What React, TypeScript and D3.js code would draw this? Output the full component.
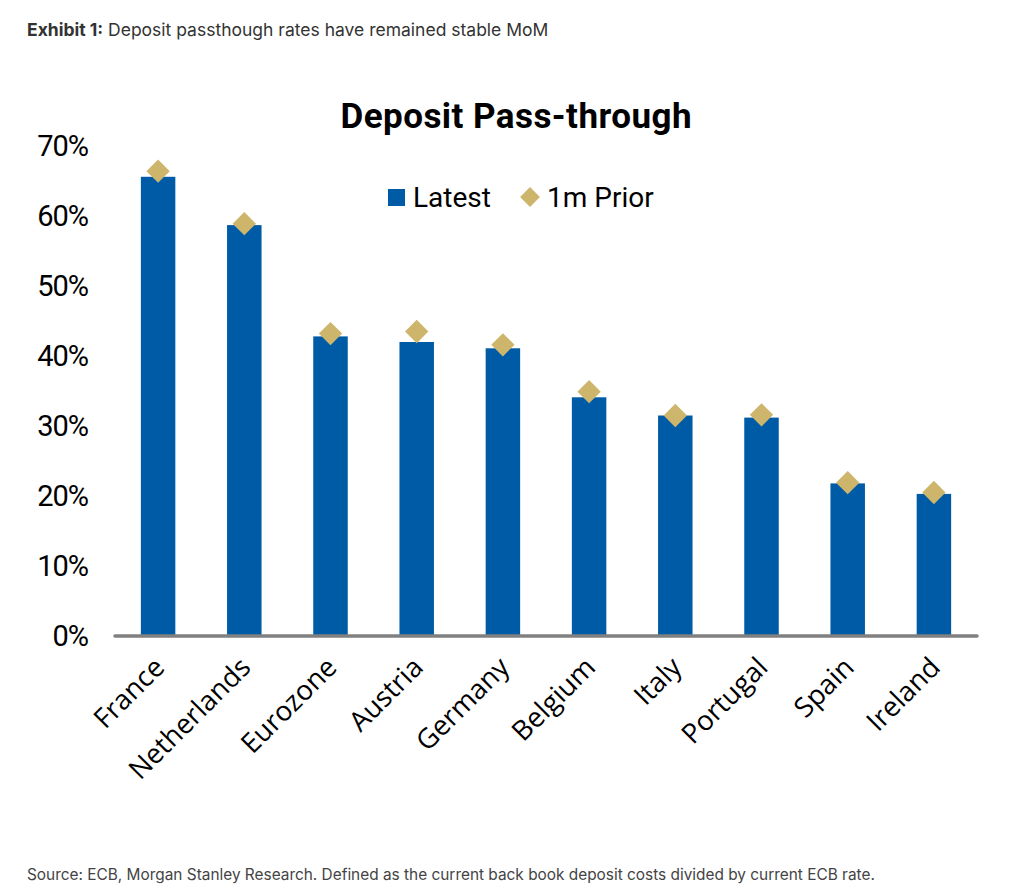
import React from "react";
import * as d3 from "d3";

const categories = ["France", "Netherlands", "Eurozone", "Austria", "Germany", "Belgium", "Italy", "Portugal", "Spain", "Ireland"];
const latest = [65.6, 58.7, 42.8, 42.0, 41.1, 34.1, 31.5, 31.2, 21.8, 20.3];
const prior = [66.4, 58.9, 43.2, 43.5, 41.6, 34.9, 31.5, 31.6, 21.9, 20.5];
const yTicks = [0, 10, 20, 30, 40, 50, 60, 70];

const BAR = "#005BA6";
const GOLD = "#CDB56B";

export default function App() {
  const W = 1009;
  const H = 895;
  const x = d3.scaleBand<string>().domain(categories).range([115, 977]).paddingInner(0.6).paddingOuter(0.3);
  const y = d3.scaleLinear().domain([0, 70]).range([636, 146]);
  const diamond = d3.symbol().type(d3.symbolSquare).size(16.5 * 16.5)();
  const legendDiamond = d3.symbol().type(d3.symbolSquare).size(14 * 14)();

  return (
    <svg width={W} height={H} style={{ position: "absolute", left: 0, top: 0, background: "#fff" }}>
      <text x={27} y={36} fontFamily="Inter" fontSize={17.5} fill="#333">
        <tspan fontWeight="bold">Exhibit 1:</tspan> Deposit passthough rates have remained stable MoM
      </text>
      <text x={516} y={128} textAnchor="middle" fontFamily="Roboto" fontWeight="bold" fontSize={35} textLength={351} lengthAdjust="spacing" fill="#000">
        Deposit Pass-through
      </text>
      {/* legend */}
      <rect x={388} y={189} width={17} height={17} fill={BAR} />
      <text x={413} y={207} fontFamily="Roboto" fontSize={28} letterSpacing={0} fill="#000">Latest</text>
      <path d={legendDiamond!} transform="translate(530,197) rotate(45)" fill={GOLD} />
      <text x={547} y={207} fontFamily="Roboto" fontSize={28} letterSpacing={0} fill="#000">1m Prior</text>

      {/* y ticks */}
      {yTicks.map((t) => (
        <text key={t} x={88} y={y(t) + 10} textAnchor="end" fontFamily="Roboto" fontSize={29} letterSpacing={-1} fill="#000">
          {t}%
        </text>
      ))}

      {/* bars */}
      {categories.map((c, i) => (
        <rect key={c} x={x(c)} y={y(latest[i])} width={x.bandwidth()} height={y(0) - y(latest[i])} fill={BAR} />
      ))}
      {/* axis line */}
      <line x1={115} x2={977} y1={y(0)} y2={y(0)} stroke="#808080" strokeWidth={3.5} strokeLinecap="round" />
      {/* prior diamonds */}
      {categories.map((c, i) => (
        <path
          key={c}
          d={diamond!}
          transform={`translate(${x(c)! + x.bandwidth() / 2},${y(prior[i])}) rotate(45)`}
          fill={GOLD}
        />
      ))}
      {/* x labels */}
      {categories.map((c) => {
        const cx = x(c)! + x.bandwidth() / 2 + 8;
        const cy = 669;
        return (
          <text
            key={c}
            x={cx}
            y={cy}
            transform={`rotate(-45,${cx},${cy})`}
            textAnchor="end"
            fontFamily="Open Sans"
            fontSize={27.5}
            fill="#000"
          >
            {c}
          </text>
        );
      })}
      <text x={27} y={880} fontFamily="Inter" fontSize={15.4} fill="#444">
        Source: ECB, Morgan Stanley Research. Defined as the current back book deposit costs divided by current ECB rate.
      </text>
    </svg>
  );
}
